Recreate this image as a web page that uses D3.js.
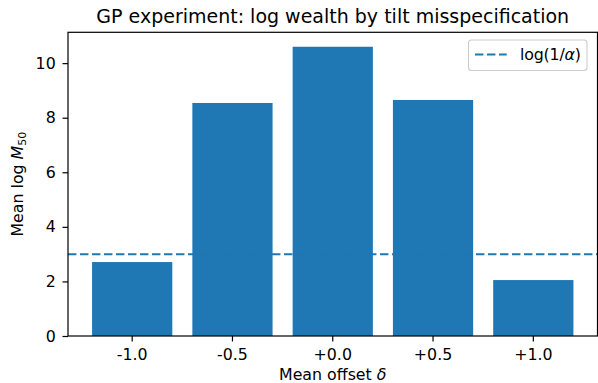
<!DOCTYPE html>
<html>
<head>
<meta charset="utf-8">
<style>
  body { margin: 0; background: #fff; }
  text { font-family: "DejaVu Sans", sans-serif; fill: #000; }
</style>
</head>
<body>
<svg width="598" height="383"></svg>
<script src="https://d3js.org/d3.v7.min.js"></script>
<script>
// data
var offsets = ['-1.0', '-0.5', '+0.0', '+0.5', '+1.0']
var meanLogWealth = [2.71, 8.54, 10.60, 8.65, 2.05]
var yTicks = [0, 2, 4, 6, 8, 10]
var threshold = [Math.log(20)]   // log(1/alpha), alpha = 0.05

var svg = d3.select('svg')
var plotL = 68, plotR = 597.5, plotT = 32.3, plotB = 336
var fs = 15.8

var x = d3.scaleBand().domain(offsets).range([plotL, plotR]).paddingInner(0.2).paddingOuter(0.24)
var y = d3.scaleLinear().domain([0, d3.max(meanLogWealth) * 1.05]).range([plotB, plotT])

// bars
svg.append('g').selectAll('rect')
  .data(meanLogWealth)
  .join('rect')
  .attr('x', function(d, i) { return x(offsets[i]) })
  .attr('width', x.bandwidth())
  .attr('y', function(d) { return y(d) })
  .attr('height', function(d) { return y(0) - y(d) })
  .attr('fill', '#1f77b4')

// dashed reference line
svg.append('g').selectAll('line')
  .data(threshold)
  .join('line')
  .attr('x1', plotL).attr('x2', plotR)
  .attr('y1', function(d) { return y(d) }).attr('y2', function(d) { return y(d) })
  .attr('stroke', '#1f77b4').attr('stroke-width', 2.2)
  .attr('stroke-dasharray', '8.4,3.6')

// axes
var xAxis = svg.append('g').attr('transform', 'translate(0,' + plotB + ')')
  .call(d3.axisBottom(x).tickSize(5.5).tickPadding(7.3))
var yAxis = svg.append('g').attr('transform', 'translate(' + plotL + ',0)')
  .call(d3.axisLeft(y).tickValues(yTicks).tickFormat(d3.format('d')).tickSize(5.5).tickPadding(6.8))
;[xAxis, yAxis].forEach(function(a) {
  a.attr('font-size', fs).attr('font-family', 'DejaVu Sans')
  a.selectAll('.domain').remove()
  a.selectAll('line').attr('stroke', '#000').attr('stroke-width', 1.2)
  a.selectAll('text').attr('fill', '#000')
})

// frame
svg.append('rect')
  .attr('x', plotL).attr('y', plotT)
  .attr('width', plotR - plotL).attr('height', plotB - plotT)
  .attr('fill', 'none').attr('stroke', '#000').attr('stroke-width', 1.2)

// title and labels
svg.append('text')
  .attr('x', (plotL + plotR) / 2).attr('y', 22.7)
  .attr('text-anchor', 'middle').attr('font-size', 19)
  .text('GP experiment: log wealth by tilt misspecification')

svg.append('text')
  .attr('x', (plotL + plotR) / 2).attr('y', 380)
  .attr('text-anchor', 'middle').attr('font-size', fs)
  .text('Mean offset ')
  .append('tspan').attr('font-style', 'italic').text('δ')

var yl = svg.append('text')
  .attr('transform', 'translate(22.5,' + (plotT + plotB) / 2 + ') rotate(-90)')
  .attr('text-anchor', 'middle').attr('font-size', fs)
yl.append('tspan').text('Mean log ')
yl.append('tspan').attr('font-style', 'italic').text('M')
yl.append('tspan').attr('font-size', 11).attr('dy', 3.5).text('50')

// legend
var lg = svg.append('g')
lg.append('rect')
  .attr('x', 468.5).attr('y', 40).attr('width', 118.5).attr('height', 30.5)
  .attr('rx', 3).attr('fill', '#fff').attr('fill-opacity', 0.8)
  .attr('stroke', '#cccccc').attr('stroke-width', 1.1)
lg.append('line')
  .attr('x1', 475).attr('x2', 506.7).attr('y1', 54.5).attr('y2', 54.5)
  .attr('stroke', '#1f77b4').attr('stroke-width', 2.2)
  .attr('stroke-dasharray', '8.4,3.6')
var lt = lg.append('text').attr('x', 520).attr('y', 60).attr('font-size', fs)
  .attr('textLength', 61).attr('lengthAdjust', 'spacing')
lt.append('tspan').text('log(1/')
lt.append('tspan').attr('font-style', 'italic').text('α')
lt.append('tspan').text(')')
</script>
</body>
</html>
